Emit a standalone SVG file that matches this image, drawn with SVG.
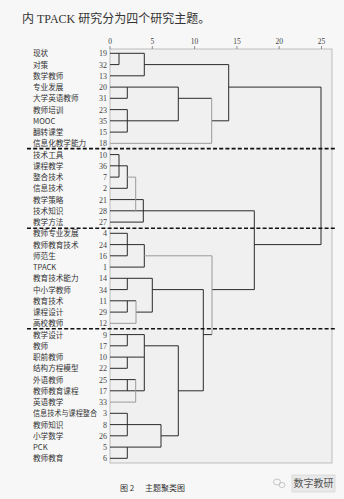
<svg xmlns="http://www.w3.org/2000/svg" width="344" height="499" viewBox="0 0 344 499">
<style>
.lbl{font-family:"Noto Sans CJK SC","Noto Sans CJK JP",sans-serif;font-size:7.6px;fill:#333}
.num{font-family:"Liberation Serif",serif;font-size:8px;fill:#444;text-anchor:end}
.tick{font-family:"Liberation Serif",serif;font-size:7.5px;fill:#444;text-anchor:middle}
.ln{fill:none;stroke:#2a2a2a;stroke-width:1}
.lg{fill:none;stroke:#9a9a9a;stroke-width:1}
.dash{stroke:#111;stroke-width:1.6;stroke-dasharray:4 2.2}
</style>
<rect width="344" height="499" fill="#f7f7f7"/>
<text x="22" y="23" font-family="'Liberation Serif','Noto Sans CJK SC',serif" font-size="12" fill="#333">内 TPACK 研究分为四个研究主题。</text>
<g id="axis">
<rect x="110" y="49" width="222" height="414" fill="#f0f0f0" stroke="#b0b0b0" stroke-width="0.8"/>
<path d="M110 46V49M152.3 46V49M194.6 46V49M236.9 46V49M279.2 46V49M321.5 46V49" stroke="#666" stroke-width="0.7"/>
<text class="tick" x="110" y="44">0</text>
<text class="tick" x="152.3" y="44">5</text>
<text class="tick" x="194.6" y="44">10</text>
<text class="tick" x="236.9" y="44">15</text>
<text class="tick" x="279.2" y="44">20</text>
<text class="tick" x="321.5" y="44">25</text>
</g>
<g id="nodes">
<g id="n19"><text class="lbl" x="33" y="56.3">现状</text><text class="num" x="107" y="56.3">19</text></g>
<g id="n32"><text class="lbl" x="33" y="67.6">对策</text><text class="num" x="107" y="67.6">32</text></g>
<g id="n13"><text class="lbl" x="33" y="78.8">数学教师</text><text class="num" x="107" y="78.8">13</text></g>
<g id="n20"><text class="lbl" x="33" y="90.1">专业发展</text><text class="num" x="107" y="90.1">20</text></g>
<g id="n31"><text class="lbl" x="33" y="101.3">大学英语教师</text><text class="num" x="107" y="101.3">31</text></g>
<g id="n23"><text class="lbl" x="33" y="112.6">教师培训</text><text class="num" x="107" y="112.6">23</text></g>
<g id="n35"><text class="lbl" x="33" y="123.8">MOOC</text><text class="num" x="107" y="123.8">35</text></g>
<g id="n15"><text class="lbl" x="33" y="135.1">翻转课堂</text><text class="num" x="107" y="135.1">15</text></g>
<g id="n18"><text class="lbl" x="33" y="146.3">信息化教学能力</text><text class="num" x="107" y="146.3">18</text></g>
<g id="n10"><text class="lbl" x="33" y="157.6">技术工具</text><text class="num" x="107" y="157.6">10</text></g>
<g id="n36"><text class="lbl" x="33" y="168.8">课程教学</text><text class="num" x="107" y="168.8">36</text></g>
<g id="n7"><text class="lbl" x="33" y="180.1">整合技术</text><text class="num" x="107" y="180.1">7</text></g>
<g id="n2"><text class="lbl" x="33" y="191.3">信息技术</text><text class="num" x="107" y="191.3">2</text></g>
<g id="n21"><text class="lbl" x="33" y="202.6">教学策略</text><text class="num" x="107" y="202.6">21</text></g>
<g id="n28"><text class="lbl" x="33" y="213.8">技术知识</text><text class="num" x="107" y="213.8">28</text></g>
<g id="n27"><text class="lbl" x="33" y="225.1">教学方法</text><text class="num" x="107" y="225.1">27</text></g>
<g id="n4"><text class="lbl" x="33" y="236.3">教师专业发展</text><text class="num" x="107" y="236.3">4</text></g>
<g id="n24"><text class="lbl" x="33" y="247.6">教师教育技术</text><text class="num" x="107" y="247.6">24</text></g>
<g id="n16"><text class="lbl" x="33" y="258.8">师范生</text><text class="num" x="107" y="258.8">16</text></g>
<g id="n1"><text class="lbl" x="33" y="270.1">TPACK</text><text class="num" x="107" y="270.1">1</text></g>
<g id="n14"><text class="lbl" x="33" y="281.3">教育技术能力</text><text class="num" x="107" y="281.3">14</text></g>
<g id="n34"><text class="lbl" x="33" y="292.6">中小学教师</text><text class="num" x="107" y="292.6">34</text></g>
<g id="n11"><text class="lbl" x="33" y="303.8">教育技术</text><text class="num" x="107" y="303.8">11</text></g>
<g id="n29"><text class="lbl" x="33" y="315.1">课程设计</text><text class="num" x="107" y="315.1">29</text></g>
<g id="n12"><text class="lbl" x="33" y="326.3">高校教师</text><text class="num" x="107" y="326.3">12</text></g>
<g id="n9"><text class="lbl" x="33" y="337.6">教学设计</text><text class="num" x="107" y="337.6">9</text></g>
<g id="n17"><text class="lbl" x="33" y="348.8">教师</text><text class="num" x="107" y="348.8">17</text></g>
<g id="n30"><text class="lbl" x="33" y="360.1">职前教师</text><text class="num" x="107" y="360.1">10</text></g>
<g id="n22"><text class="lbl" x="33" y="371.3">结构方程模型</text><text class="num" x="107" y="371.3">22</text></g>
<g id="n25"><text class="lbl" x="33" y="382.6">外语教师</text><text class="num" x="107" y="382.6">25</text></g>
<g id="n37"><text class="lbl" x="33" y="393.8">教师教育课程</text><text class="num" x="107" y="393.8">17</text></g>
<g id="n33"><text class="lbl" x="33" y="405.1">英语教学</text><text class="num" x="107" y="405.1">33</text></g>
<g id="n3"><text class="lbl" x="33" y="416.3" textLength="64" lengthAdjust="spacingAndGlyphs">信息技术与课程整合</text><text class="num" x="107" y="416.3">3</text></g>
<g id="n8"><text class="lbl" x="33" y="427.6">教师知识</text><text class="num" x="107" y="427.6">8</text></g>
<g id="n26"><text class="lbl" x="33" y="438.8">小学数学</text><text class="num" x="107" y="438.8">26</text></g>
<g id="n5"><text class="lbl" x="33" y="450.1">PCK</text><text class="num" x="107" y="450.1">5</text></g>
<g id="n6"><text class="lbl" x="33" y="461.3">教师教育</text><text class="num" x="107" y="461.3">6</text></g>
</g>
<g id="connectors">
<path class="ln" d="M110 53.3H144.3M110 64.6H119M119 53.3V64.6M110 75.8H144.3M144.3 53.3V75.8M144.3 64.6H228.7
M110 87.1H178.3M110 98.3H127.3M127.3 87.1V98.3M110 109.6H127.3M110 120.8H178.3M110 132.1H127.3M127.3 109.6V132.1
M178.3 87.1V120.8M178.3 98.3H211.7M211.7 120.8H228.7M228.7 64.6V120.8M228.7 87.1H321M321 87.1V244.6"/>
<path class="lg" d="M110 143.3H211.7M211.7 98.3V143.3"/>
<path class="ln" d="M110 154.6H119M110 177.1H119M119 154.6V177.1M110 165.8H127.3M110 188.3H127.3M127.3 165.8V188.3
M110 199.6H143.3M110 222.1H143.3M143.3 199.6V222.1M110 210.8H254.3M254.3 210.8V289.6M254.3 244.6H321"/>
<path class="lg" d="M127.3 177.1H135.7M135.7 177.1V210.8"/>
<path class="ln" d="M110 233.3H127.3M110 255.8H127.3M127.3 233.3V255.8M110 244.6H144.3M110 267.1H144.3M144.3 244.6V267.1
M212 289.6H254.3M110 278.3H152.3M110 289.6H127.3M127.3 278.3V289.6M110 300.8H136M110 312.1H127.3M127.3 300.8V312.1
M136 312.1H152.3M152.3 278.3V312.1M152.3 289.6H203.3M203.3 289.6V390.8M203.3 334.6H212"/>
<path class="lg" d="M144.3 255.8H212M212 255.8V334.6M136 300.8V323.3M110 323.3H136"/>
<path class="ln" d="M110 334.6H144.3M110 345.8H127.3M127.3 334.6V345.8M110 357.1H144.3M110 368.3H127.3M127.3 357.1V368.3
M110 379.6H135.7M110 390.8H144.3M127.3 379.6V390.8M144.3 334.6V390.8M144.3 345.8H178.3
M110 413.3H127.3M110 424.6H161M110 435.8H127.3M127.3 413.3V435.8M110 447.1H161M110 458.3H127.3M127.3 447.1V458.3
M161 424.6V447.1M161 435.8H178.3M178.3 345.8V435.8M178.3 390.8H203.3"/>
<path class="lg" d="M135.7 379.6V402.1M110 402.1H135.7"/>
</g>
<g id="dividers">
<line class="dash" x1="27" y1="148.6" x2="336" y2="148.6"/>
<line class="dash" x1="27" y1="228.2" x2="336" y2="228.2"/>
<line class="dash" x1="27" y1="328.8" x2="336" y2="328.8"/>
</g>
<g id="caption" font-family="'Noto Sans CJK SC',sans-serif" font-size="8" fill="#333">
<text x="120" y="491">图 2</text>
<text x="145" y="491">主题聚类图</text>
</g>
<g id="watermark">
<ellipse cx="277" cy="482" rx="3.5" ry="3" fill="none" stroke="#bbb" stroke-width="0.8"/>
<ellipse cx="282" cy="485" rx="3" ry="2.5" fill="none" stroke="#bbb" stroke-width="0.8"/>
<rect x="292" y="475" width="43" height="17" fill="#e9e9e9" stroke="#d0d0d0" stroke-width="0.6"/>
<text x="313.5" y="487" text-anchor="middle" font-family="'Noto Sans CJK SC',sans-serif" font-size="10" fill="#555">数字教研</text>
</g>
</svg>
